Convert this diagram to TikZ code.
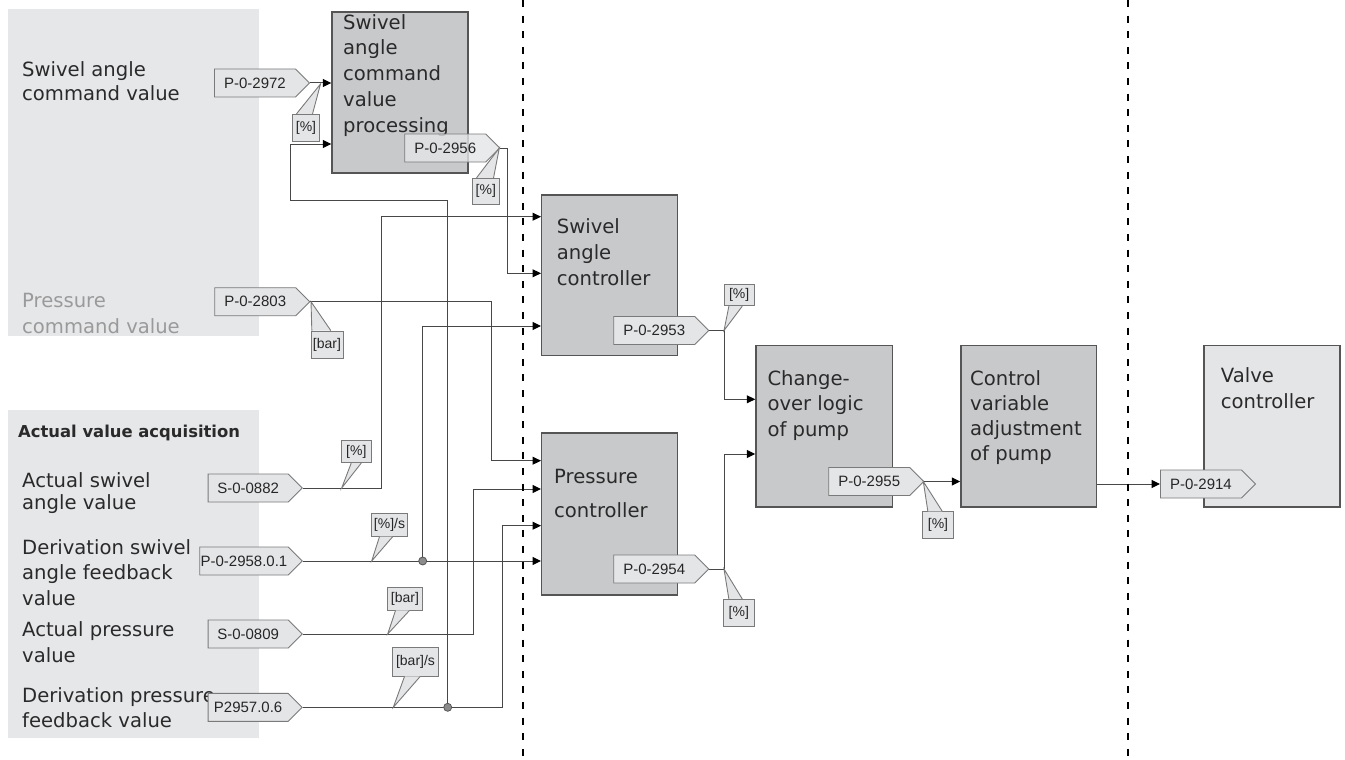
\documentclass[tikz,border=0pt]{standalone}
\usepackage{fontspec}
\setmainfont{DejaVu Sans}
\newfontfamily\tagfont{Liberation Sans}
\usetikzlibrary{shapes.symbols,arrows.meta,calc}
\definecolor{panel}{HTML}{E6E7E9}
\definecolor{blk}{HTML}{C8C9CB}
\definecolor{edge}{HTML}{555555}
\definecolor{tagfill}{HTML}{E4E5E7}
\definecolor{tagedge}{HTML}{7A7A7A}
\definecolor{wire}{HTML}{474747}
\definecolor{txt}{HTML}{2A2A2A}
\definecolor{ltxt}{HTML}{9A9A9A}
\newcommand\unitptr[5]{%
  \fill[tagfill] ([xshift=#3]#1.#2 west) -- (#5) -- ([xshift=#4]#1.#2 west) -- cycle;
  \draw[ptrline] ([xshift=#3]#1.#2 west) -- (#5) -- ([xshift=#4]#1.#2 west);}
\begin{document}
\begin{tikzpicture}[x=1pt,y=-1pt,
  lbl/.style={anchor=base west, align=left, inner sep=0, text=txt, font=\fontsize{19.6}{#1}\selectfont},
  lbl/.default=25.5,
  panelbox/.style={fill=panel, draw=none},
  box/.style={rectangle, draw=edge, line width=1.4, fill=blk, inner sep=0},
  lightbox/.style={rectangle, draw=edge, line width=1.4, fill=tagfill, inner sep=0},
  tag/.style={shape=signal, signal to=east, signal pointer angle=90, draw=tagedge, fill=tagfill,
    line width=0.9, minimum height=28, inner xsep=1, inner ysep=0, text=black!85,
    font=\tagfont\fontsize{15}{18}\selectfont, anchor=west},
  unit/.style={rectangle, draw=tagedge, fill=tagfill, line width=0.9, inner xsep=2, inner ysep=0,
    text=black!85, font=\tagfont\fontsize{14}{16}\selectfont},
  ptrline/.style={draw=tagedge, line width=0.9},
  arr/.style={draw=wire, line width=1.0, -{Triangle[length=8.5pt,width=8pt,color=black]}},
  dot/.style={circle, fill=black!45, draw=edge, line width=0.8, inner sep=0, minimum size=8},
  sep/.style={draw=black, line width=2.8, dash pattern=on 7pt off 8.6pt}]

\fill[white] (0,0) rectangle (1345,760);
\useasboundingbox (0,0) rectangle (1345,760);

% grey panels
\fill[panelbox] (8,9) rectangle (259,336);
\fill[panelbox] (8,410) rectangle (259,738);

% panel texts (anchor = baseline of the last line)
\node[lbl=24] (tsw) at (22,100) {Swivel angle\\command value};
\node[lbl=26, text=ltxt] (tpr) at (22,333) {Pressure\\command value};
\node[anchor=base west, inner sep=0, text=txt, font=\bfseries\fontsize{16.4}{20}\selectfont] (tav) at (18,437) {Actual value acquisition};
\node[lbl=22.5] (tas) at (22,509.5) {Actual swivel\\angle value};
\node[lbl=25.5] (tds) at (22,605) {Derivation swivel\\angle feedback\\value};
\node[lbl=26] (tap) at (22,662) {Actual pressure\\value};
\node[lbl=25] (tdp) at (22,727) {Derivation pressure\\feedback value};

% blocks
\node[box, minimum width=136, minimum height=161] (bp) at (400,92.5) {};
\node[box, minimum width=136, minimum height=160.7] (sc) at (609.7,275.3) {};
\node[box, minimum width=136, minimum height=162] (pc) at (609.7,514) {};
\node[box, minimum width=136.7, minimum height=161.3] (co) at (824.3,426.3) {};
\node[box, minimum width=135.7, minimum height=161.3] (cv) at (1028.8,426.3) {};
\node[lightbox, minimum width=136, minimum height=161.3] (vc) at (1272,426.3) {};

\node[lbl=25.8] (tbp) at (343,132.2) {Swivel\\angle\\command\\value\\processing};
\node[lbl=26] (tsc) at (556.7,285) {Swivel\\angle\\controller};
\node[lbl=34] (tpc) at (554,517) {Pressure\\controller};
\node[lbl=25.5] (tco) at (767.3,436) {Change-\\over logic\\of pump};
\node[lbl=25] (tcv) at (970,460) {Control\\variable\\adjustment\\of pump};
\node[lbl=26] (tvc) at (1220.7,408) {Valve\\controller};

% parameter tags
\node[tag, minimum width=95] (t2972) at (214,83) {P-0-2972};
\node[tag, minimum width=95, fill opacity=0.8, text opacity=1] (t2956) at (404.3,148) {P-0-2956};
\node[tag, minimum width=95] (t2803) at (214.3,301.7) {P-0-2803};
\node[tag, minimum width=94] (t0882) at (207.7,488) {S-0-0882};
\node[tag, minimum width=102.4, inner xsep=0] (t2958) at (199.3,561) {P-0-2958.0.1};
\node[tag, minimum width=94] (t0809) at (207.7,634) {S-0-0809};
\node[tag, minimum width=94] (t2957) at (207.7,707.3) {P2957.0.6};
\node[tag, minimum width=95] (t2953) at (613.3,330.5) {P-0-2953};
\node[tag, minimum width=95] (t2954) at (613.3,569) {P-0-2954};
\node[tag, minimum width=95] (t2955) at (828.3,481.5) {P-0-2955};
\node[tag, minimum width=95] (t2914) at (1160,484) {P-0-2914};

% junctions
\coordinate (j1) at (422.7,561);
\coordinate (j2) at (447.7,707.3);

% connectors
\draw[arr] (t2972.east) -- (t2972.east -| bp.west);
\draw[arr] (j2) -- (447.7,200) -- (290,200) -- (290,144) -- (bp.west |- 0,144);
\draw[arr] (t2956.east) -| (507.7,273.3) -- (sc.west |- 0,273.3);
\draw[arr] (t0882.east) -| (381.7,216.7) -- (sc.west |- 0,216.7);
\draw[arr] (t2803.east) -| (491,460.7) -- (pc.west |- 0,460.7);
\draw[arr] (t2958.east) -- (t2958.east -| pc.west);
\draw[arr] (j1) -- (422.7,326) -- (sc.west |- 0,326);
\draw[arr] (t0809.east) -| (473.3,489) -- (pc.west |- 0,489);
\draw[arr] (t2957.east) -| (502.3,525.7) -- (pc.west |- 0,525.7);
\draw[arr] (t2953.east) -| (724,399.3) -- (co.west |- 0,399.3);
\draw[arr] (t2954.east) -| (724,454) -- (co.west |- 0,454);
\draw[arr] (t2955.east) -- (t2955.east -| cv.west);
\draw[arr] (cv.east |- t2914.west) -- (t2914.west);

\node[dot] (d1) at (j1) {};
\node[dot] (d2) at (j2) {};

% separators
\draw[sep] (523,0) -- (523,760);
\draw[sep] (1128,0) -- (1128,760);

% unit callouts
\node[unit, minimum width=26.6, minimum height=26.7] (u1) at (306,127.6) {[\%]};
\node[unit, minimum width=27, minimum height=26] (u2) at (485.8,191.3) {[\%]};
\node[unit, minimum width=30.6, minimum height=27.3] (u3) at (327,344.7) {[bar]};
\node[unit, minimum width=30.7, minimum height=22] (u4) at (356.3,451.7) {[\%]};
\node[unit, minimum width=35.6, minimum height=22.7] (u5) at (389.5,524.7) {[\%]/s};
\node[unit, minimum width=35.4, minimum height=22.3] (u6) at (405,598.8) {[bar]};
\node[unit, minimum width=45.6, minimum height=28.3] (u7) at (415.5,661.8) {[bar]/s};
\node[unit, minimum width=30.3, minimum height=21.4] (u8) at (739.2,295) {[\%]};
\node[unit, minimum width=31, minimum height=26.7] (u9) at (738.8,612.7) {[\%]};
\node[unit, minimum width=30.6, minimum height=26.6] (u10) at (938,525) {[\%]};

\unitptr{u1}{north}{4.3}{20.3}{320.5,84}
\unitptr{u2}{north}{4.7}{21.7}{499.3,148}
\unitptr{u3}{north}{1.3}{20.3}{311,301.7}
\unitptr{u4}{south}{10.7}{20.7}{341.7,488}
\unitptr{u5}{south}{8.3}{21.6}{371.7,561}
\unitptr{u6}{south}{8.7}{22.7}{387.7,634}
\unitptr{u7}{south}{12.3}{28}{393.3,707.3}
\unitptr{u8}{south}{5.3}{18.7}{724,330.5}
\unitptr{u9}{north}{6}{19.4}{724,569}
\unitptr{u10}{north}{5.6}{20}{923.3,481.5}

\end{tikzpicture}
\end{document}
